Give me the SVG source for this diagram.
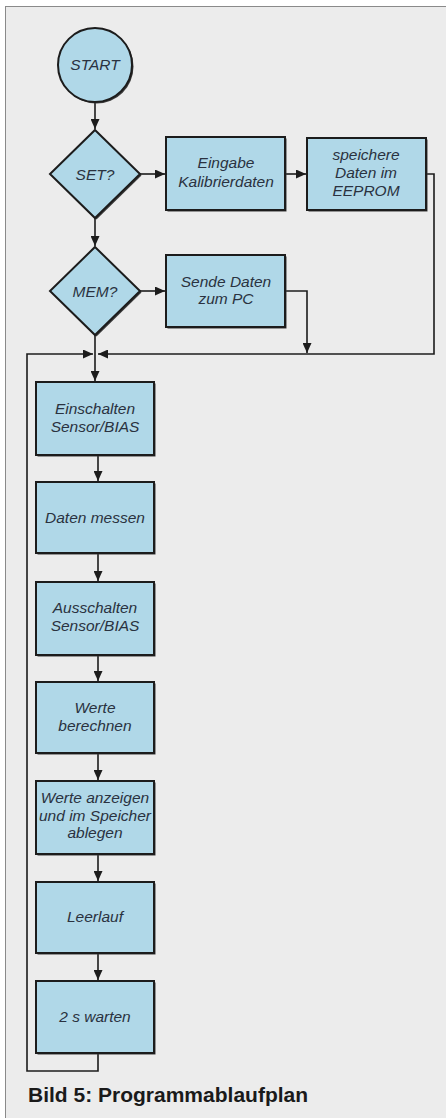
<svg xmlns="http://www.w3.org/2000/svg" width="446" height="1118" viewBox="0 0 446 1118">
<defs>
<style>
.box{fill:#b0d8e8;stroke:#1c1c1c;stroke-width:2}
.sh{fill:#3a3a3a}
.lbl{font-family:"Liberation Sans",Arial,sans-serif;font-style:italic;font-size:15.5px;fill:#2a3240;text-anchor:middle}
.con{fill:none;stroke:#1c1c1c;stroke-width:1.6}
.cap{font-family:"Liberation Sans",Arial,sans-serif;font-weight:bold;font-size:21px;fill:#1a1a1a}
</style>
<marker id="ah" markerUnits="userSpaceOnUse" markerWidth="11" markerHeight="9" refX="10" refY="4.5" orient="auto">
<path d="M0,0 L10,4.5 L0,9 z" fill="#1c1c1c"/>
</marker>
</defs>
<rect x="0" y="0" width="446" height="1118" fill="#ffffff"/>
<rect x="5.5" y="6.5" width="445" height="1120" fill="#ececec" stroke="#8a8a8a" stroke-width="1"/>

<g id="connectors">
<path class="con" d="M95,102 V129" marker-end="url(#ah)"/>
<path class="con" d="M140,174 H165" marker-end="url(#ah)"/>
<path class="con" d="M285,174 H306" marker-end="url(#ah)"/>
<path class="con" d="M426,174 H434 V354 H98" marker-end="url(#ah)"/>
<path class="con" d="M95,218 V246" marker-end="url(#ah)"/>
<path class="con" d="M140,291 H165" marker-end="url(#ah)"/>
<path class="con" d="M285,291 H307 V353" marker-end="url(#ah)"/>
<path class="con" d="M95,335 V381" marker-end="url(#ah)"/>
<path class="con" d="M98,1053 V1071 H27 V354 H93" marker-end="url(#ah)"/>
<path class="con" d="M98,455 V481" marker-end="url(#ah)"/>
<path class="con" d="M98,553 V581" marker-end="url(#ah)"/>
<path class="con" d="M98,655 V681" marker-end="url(#ah)"/>
<path class="con" d="M98,753 V780" marker-end="url(#ah)"/>
<path class="con" d="M98,854 V881" marker-end="url(#ah)"/>
<path class="con" d="M98,953 V980" marker-end="url(#ah)"/>
</g>

<g id="start">
<circle class="sh" cx="96.5" cy="66.5" r="37"/>
<circle class="box" cx="95" cy="65" r="37"/>
<text class="lbl" x="95" y="70" font-size="15">START</text>
</g>

<g id="set">
<polygon class="sh" points="96.5,131.5 141.5,175.5 96.5,219.5 51.5,175.5"/>
<polygon class="box" points="95,130 140,174 95,218 50,174"/>
<text class="lbl" x="95" y="180">SET?</text>
</g>

<g id="eingabe">
<rect class="sh" x="167.5" y="138.5" width="119" height="73"/>
<rect class="box" x="166" y="137" width="119" height="73"/>
<text class="lbl" x="226" y="168">Eingabe</text>
<text class="lbl" x="226" y="187">Kalibrierdaten</text>
</g>

<g id="speichere">
<rect class="sh" x="308.5" y="139.5" width="119" height="72"/>
<rect class="box" x="307" y="138" width="119" height="72"/>
<text class="lbl" x="366" y="160">speichere</text>
<text class="lbl" x="366" y="178">Daten im</text>
<text class="lbl" x="366" y="196">EEPROM</text>
</g>

<g id="mem">
<polygon class="sh" points="96.5,248.5 141.5,292.5 96.5,336.5 51.5,292.5"/>
<polygon class="box" points="95,247 140,291 95,335 50,291"/>
<text class="lbl" x="95" y="297">MEM?</text>
</g>

<g id="sende">
<rect class="sh" x="167.5" y="256.5" width="119" height="72"/>
<rect class="box" x="166" y="255" width="119" height="72"/>
<text class="lbl" x="226" y="287">Sende Daten</text>
<text class="lbl" x="226" y="304">zum PC</text>
</g>

<g id="einschalten">
<rect class="sh" x="37.5" y="383.5" width="118" height="73"/>
<rect class="box" x="36" y="382" width="118" height="73"/>
<text class="lbl" x="95" y="414">Einschalten</text>
<text class="lbl" x="95" y="432">Sensor/BIAS</text>
</g>

<g id="messen">
<rect class="sh" x="37.5" y="483.5" width="118" height="71"/>
<rect class="box" x="36" y="482" width="118" height="71"/>
<text class="lbl" x="95" y="523">Daten messen</text>
</g>

<g id="ausschalten">
<rect class="sh" x="37.5" y="583.5" width="118" height="73"/>
<rect class="box" x="36" y="582" width="118" height="73"/>
<text class="lbl" x="95" y="613">Ausschalten</text>
<text class="lbl" x="95" y="631">Sensor/BIAS</text>
</g>

<g id="berechnen">
<rect class="sh" x="37.5" y="683.5" width="118" height="71"/>
<rect class="box" x="36" y="682" width="118" height="71"/>
<text class="lbl" x="95" y="713">Werte</text>
<text class="lbl" x="95" y="731">berechnen</text>
</g>

<g id="anzeigen">
<rect class="sh" x="37.5" y="782.5" width="118" height="73"/>
<rect class="box" x="36" y="781" width="118" height="73"/>
<text class="lbl" x="95" y="803" font-size="14.5">Werte anzeigen</text>
<text class="lbl" x="95" y="821" font-size="14.5">und im Speicher</text>
<text class="lbl" x="95" y="838" font-size="14.5">ablegen</text>
</g>

<g id="leerlauf">
<rect class="sh" x="37.5" y="883.5" width="118" height="71"/>
<rect class="box" x="36" y="882" width="118" height="71"/>
<text class="lbl" x="95" y="922">Leerlauf</text>
</g>

<g id="warten">
<rect class="sh" x="37.5" y="982.5" width="118" height="72"/>
<rect class="box" x="36" y="981" width="118" height="72"/>
<text class="lbl" x="95" y="1022">2 s warten</text>
</g>

<text class="cap" x="28" y="1102">Bild 5: Programmablaufplan</text>
</svg>
